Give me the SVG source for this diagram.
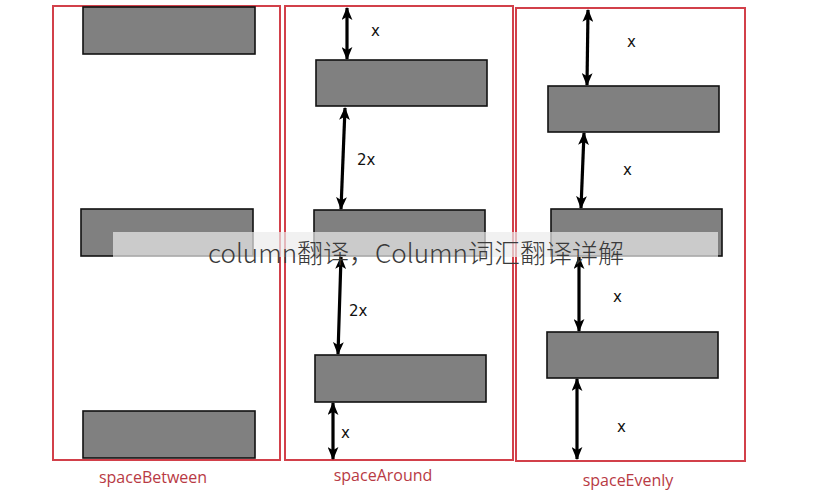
<svg xmlns="http://www.w3.org/2000/svg" width="831" height="490" viewBox="0 0 831 490">
<defs>
<marker id="ah" viewBox="0 0 12 10" refX="11" refY="5" markerWidth="13" markerHeight="11" markerUnits="userSpaceOnUse" orient="auto-start-reverse">
<path d="M0,0 L12,5 L0,10 L3,5 Z" fill="#000"/>
</marker>
</defs>
<style>
.panel{fill:none;stroke:#d2404a;stroke-width:2}
.box{fill:#808080;stroke:#111;stroke-width:1.6}
.arr{stroke:#000;stroke-width:3.2;fill:none;marker-start:url(#ah);marker-end:url(#ah)}
.lbl{font-family:"DejaVu Sans","Liberation Sans",sans-serif;font-size:15px;fill:#111}
.cap{font-family:"Open Sans","Noto Sans",sans-serif;font-size:16px;fill:#b83a44;text-anchor:middle}
</style>
<rect width="831" height="490" fill="#fff"/>
<g id="spaceBetween">
<rect class="panel" x="53" y="6" width="227" height="454"/>
<g id="sb-item1"><rect class="box" x="83" y="7" width="172" height="47"/></g>
<g id="sb-item2"><rect class="box" x="81" y="209" width="172" height="47"/></g>
<g id="sb-item3"><rect class="box" x="83" y="411" width="172" height="47"/></g>
<text class="cap" x="153" y="483">spaceBetween</text>
</g>
<g id="spaceAround">
<rect class="panel" x="285" y="6" width="228" height="454"/>
<g id="sa-item1"><rect class="box" x="316" y="60" width="171" height="46"/></g>
<g id="sa-item2"><rect class="box" x="314" y="210" width="171" height="46"/></g>
<g id="sa-item3"><rect class="box" x="315" y="355" width="171" height="47"/></g>
<text class="cap" x="383" y="481">spaceAround</text>
</g>
<g id="spaceEvenly">
<rect class="panel" x="516" y="8" width="229" height="453"/>
<g id="se-item1"><rect class="box" x="548" y="86" width="171" height="46"/></g>
<g id="se-item2"><rect class="box" x="551" y="209" width="171" height="47"/></g>
<g id="se-item3"><rect class="box" x="547" y="332" width="171" height="46"/></g>
<text class="cap" x="628" y="486">spaceEvenly</text>
</g>
<g id="connectors">
<line class="arr" x1="347" y1="8" x2="347" y2="59"/>
<line class="arr" x1="345" y1="108" x2="341" y2="209"/>
<line class="arr" x1="341" y1="257" x2="338" y2="354"/>
<line class="arr" x1="333" y1="403" x2="333" y2="459"/>
<line class="arr" x1="588" y1="10" x2="587" y2="85"/>
<line class="arr" x1="584" y1="133" x2="581" y2="208"/>
<line class="arr" x1="579" y1="257" x2="579" y2="331"/>
<line class="arr" x1="577" y1="379" x2="577" y2="459"/>
<text class="lbl" x="371" y="36">x</text>
<text class="lbl" x="357" y="165">2x</text>
<text class="lbl" x="349" y="316">2x</text>
<text class="lbl" x="341" y="438">x</text>
<text class="lbl" x="627" y="47">x</text>
<text class="lbl" x="623" y="175">x</text>
<text class="lbl" x="613" y="302">x</text>
<text class="lbl" x="617" y="432">x</text>
</g>
<g id="watermark">
<rect x="113" y="232" width="605" height="25" fill="rgb(235,235,235)" fill-opacity="0.7"/>
<text x="416" y="263" text-anchor="middle" font-family="'Noto Sans CJK SC',sans-serif" font-weight="300" font-size="26" fill="#3a3a3a">column翻译，Column词汇翻译详解</text>
</g>
</svg>
